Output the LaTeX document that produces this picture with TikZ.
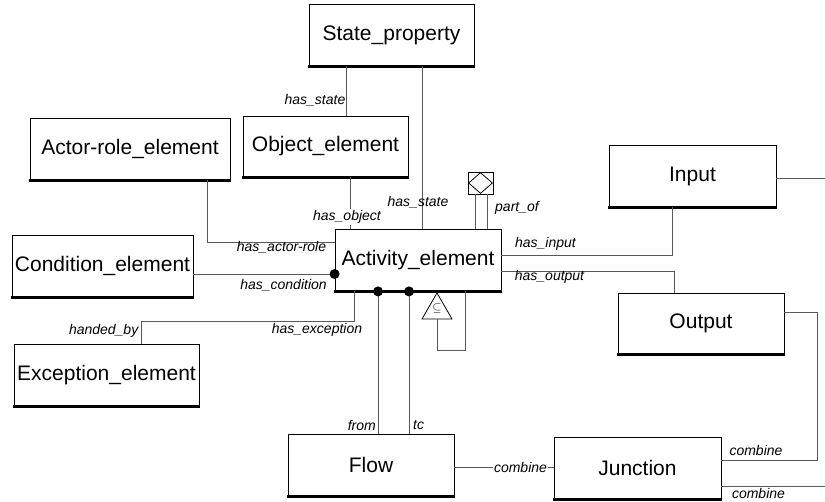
\documentclass[tikz,border=0pt]{standalone}
\usepackage{fontspec}
\setmainfont{Liberation Sans}
\usetikzlibrary{shapes.geometric}
\tikzset{
  ent/.style={draw, line width=0.8pt, minimum width=#1, minimum height=62pt,
    inner sep=0pt, font=\fontsize{21}{25}\selectfont},
  conn/.style={draw=black!65, line width=0.9pt},
  lbl/.style={font=\fontsize{14}{16}\selectfont\itshape, inner sep=1pt},
  dotmark/.style={circle, fill=black, minimum size=10pt, inner sep=0pt},
  base/.style={line width=3.5pt}
}
\begin{document}
\begin{tikzpicture}[x=1pt, y=-1pt]
\useasboundingbox (0,0) rectangle (825,501);

% entity boxes
\node[ent=165pt] (sp) at (391.5,35) {State\_property};
\node[ent=165pt, minimum height=61pt] (ob) at (325.5,146.5) {Object\_element};
\node[ent=200pt] (ar) at (130,149) {Actor-role\_element};
\node[ent=181pt] (ce) at (102.5,266) {Condition\_element};
\node[ent=166pt] (ae) at (418,260) {Activity\_element};
\node[ent=185pt] (ee) at (106.5,375) {Exception\_element};
\node[ent=167pt] (inp) at (692.5,176) {Input};
\node[ent=166pt, minimum height=61pt] (out) at (701,323.5) {Output};
\node[ent=166pt] (fl) at (371,465) {Flow};
\node[ent=167pt] (ju) at (637.5,468) {Junction};

\foreach \n in {sp,ob,ar,ce,ae,ee,inp,out,fl,ju}
  \draw[base] ([xshift=-1pt]\n.south west) -- ([xshift=1pt]\n.south east);

% aggregation marker and subset marker
\node[draw, line width=0.8pt, minimum width=25pt, minimum height=22pt, inner sep=0pt] (po) at (480.5,183) {};
\node[diamond, draw, line width=0.8pt, minimum width=24pt, minimum height=21pt, inner sep=0pt] (pod) at (po.center) {};
\node[regular polygon, regular polygon sides=3, draw, line width=0.8pt,
  minimum size=34.6pt, inner sep=0pt] (sub) at (437,310.3) {};
\node[font=\large, inner sep=0pt] (subsym) at (437,308) {$\subseteq$};

% edge coordinates on the right border
\coordinate (e1) at (825,178);
\coordinate (e2) at (825,486);

% connectors
\draw[conn] (sp.south -| 346,0) -- (ob.north -| 346,0);
\draw[conn] (sp.south -| 422,0) -- (ae.north -| 422,0);
\draw[conn] (ob.south -| 350,0) -- (ae.north -| 350,0);
\draw[conn] (po.south -| 475,0) -- (ae.north -| 475,0);
\draw[conn] (po.south -| 487,0) -- (ae.north -| 487,0);
\draw[conn] (ar.south -| 207,0) |- (ae.west |- 0,242);
\draw[conn] (ce.east |- 0,274) -- (ae.west |- 0,274);
\draw[conn] (ae.south -| 354,0) |- (141,321) -- (ee.north -| 141,0);
\draw[conn] (ae.south -| 378,0) -- (fl.north -| 378,0);
\draw[conn] (ae.south -| 409,0) -- (fl.north -| 409,0);
\draw[conn] (sub.south) |- (465,350) -- (ae.south -| 465,0);
\draw[conn] (ae.east |- 0,255) -| (inp.south -| 672,0);
\draw[conn] (ae.east |- 0,271) -| (out.north -| 674,0);
\draw[conn] (inp.east |- e1) -- (e1);
\draw[conn] (out.east |- 0,312) -| (817,460) -- (ju.east |- 0,460);
\draw[conn] (ju.east |- e2) -- (e2);
\draw[conn] (fl.east |- 0,467) -- (ju.west |- 0,467);

% role labels
\node[lbl, anchor=east] (l1) at (346.5,100) {has\_state};
\node[lbl] (l2) at (418,202) {has\_state};
\node[lbl, fill=white] (l3) at (347,217) {has\_object};
\node[lbl] (l4) at (517,208) {part\_of};
\node[lbl] (l5) at (281.5,247) {has\_actor-role};
\node[lbl] (l6) at (283.5,285) {has\_condition};
\node[lbl] (l7) at (317,330) {has\_exception};
\node[lbl, anchor=east] (l8) at (139.5,331) {handed\_by};
\node[lbl, anchor=east] (l9) at (377,425) {from};
\node[lbl, anchor=west] (l10) at (412,425) {tc};
\node[lbl] (l11) at (545.5,244) {has\_input};
\node[lbl] (l12) at (549.5,277) {has\_output};
\node[lbl, fill=white] (l13) at (520.5,467) {combine};
\node[lbl] (l14) at (756,450) {combine};
\node[lbl] (l15) at (758.5,493.5) {combine};

% mandatory-role dots
\node[dotmark] (d1) at (ae.west |- 0,274) {};
\node[dotmark] (d2) at (ae.south -| 378,0) {};
\node[dotmark] (d3) at (ae.south -| 409,0) {};
\end{tikzpicture}
\end{document}
